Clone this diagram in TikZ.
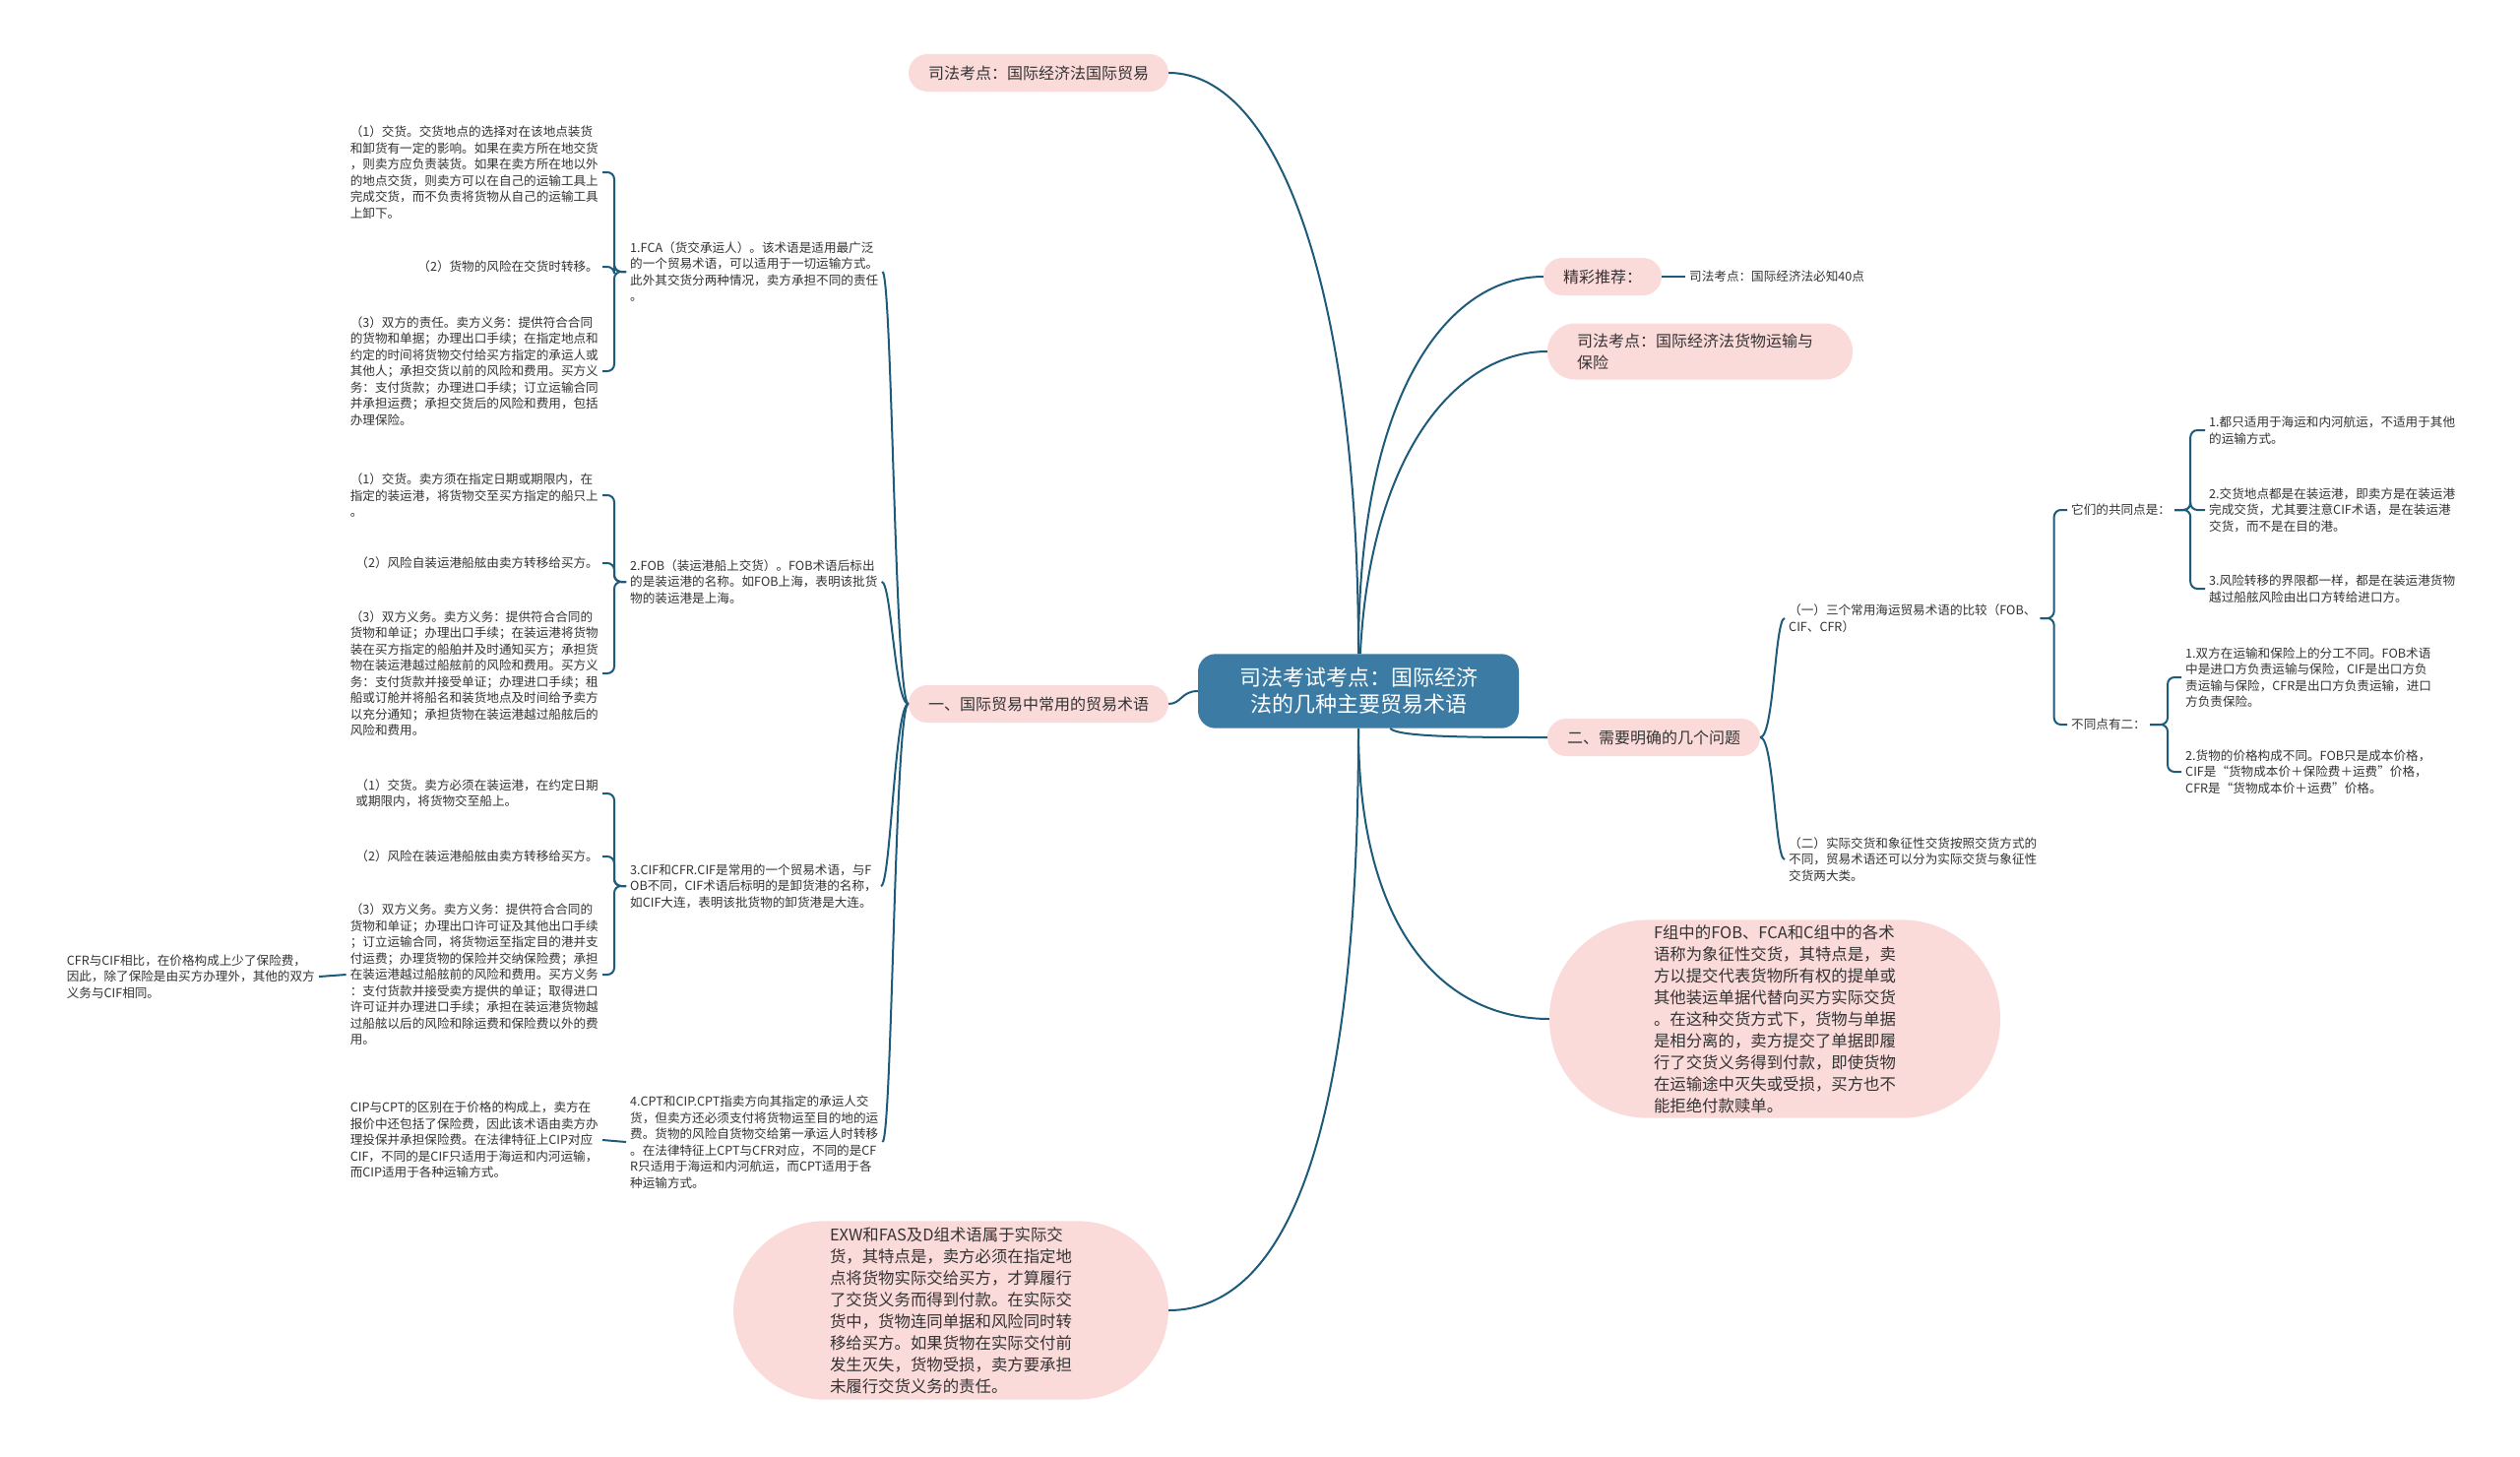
\documentclass[tikz,border=0pt]{standalone}
\usepackage{fontspec}
\setmainfont{Noto Sans CJK SC}
\definecolor{linkblue}{HTML}{1E5B7B}
\definecolor{pinkfill}{HTML}{FBDADA}
\definecolor{rootblue}{HTML}{3B7BA4}
\definecolor{textgray}{HTML}{333333}
\tikzset{link/.style = {draw = linkblue, line width = 2pt}}
\tikzset{bracket/.style = {link, rounded corners = 7pt}}
\tikzset{leaf/.style = {align = left, inner sep = 4pt, text = textgray, font = \fontsize{12.6}{16.5}\selectfont}}
\tikzset{topic/.style = {fill = pinkfill, rounded corners = 19pt, inner xsep = 20pt, minimum height = 38pt, text = textgray, font = \fontsize{16}{22}\selectfont}}
\tikzset{bubble/.style = {fill = pinkfill, rounded corners = 92pt, align = left, text = textgray, font = \fontsize{16.4}{22}\selectfont}}
\tikzset{root/.style = {fill = rootblue, rounded corners = 18pt, align = center, text = white, inner xsep = 42pt, inner ysep = 14pt, font = \fontsize{22}{27}\selectfont}}
\begin{document}
\begin{tikzpicture}[x = 1pt, y = -1pt]
	\fill[white] (0, 0) rectangle (2560, 1480);
	\clip (0, 0) rectangle (2560, 1480);

	\node[root] (root) at (1380, 702) {司法考试考点：国际经济\\法的几种主要贸易术语};

	\node[topic] (law) at (1055, 74) {司法考点：国际经济法国际贸易};
	\node[topic] (terms) at (1055, 715) {一、国际贸易中常用的贸易术语};
	\node[topic] (rec) at (1628, 281) {精彩推荐：};
	\node[topic, align = left, text width = 250pt, inner xsep = 30pt, rounded corners = 28pt, minimum height = 57pt] (cargo) at (1727, 357) {司法考点：国际经济法货物运输与\\保险};
	\node[topic] (issues) at (1680, 749) {二、需要明确的几个问题};
	\node[leaf, anchor = west] (rec1) at (1712, 281) {司法考点：国际经济法必知40点};

	\node[bubble, inner xsep = 106pt, inner ysep = 5pt, rounded corners = 100pt] (symbolic) at (1803, 1035) {F组中的FOB、FCA和C组中的各术\\语称为象征性交货，其特点是，卖\\方以提交代表货物所有权的提单或\\其他装运单据代替向买方实际交货\\。在这种交货方式下，货物与单据\\是相分离的，卖方提交了单据即履\\行了交货义务得到付款，即使货物\\在运输途中灭失或受损，买方也不\\能拒绝付款赎单。};
	\node[bubble, inner xsep = 98pt, inner ysep = 6pt] (actual) at (966, 1331) {EXW和FAS及D组术语属于实际交\\货，其特点是，卖方必须在指定地\\点将货物实际交给买方，才算履行\\了交货义务而得到付款。在实际交\\货中，货物连同单据和风险同时转\\移给买方。如果货物在实际交付前\\发生灭失，货物受损，卖方要承担\\未履行交货义务的责任。};

	\node[leaf, anchor = west] (fca) at (636, 276) {1.FCA（货交承运人）。该术语是适用最广泛\\的一个贸易术语，可以适用于一切运输方式。\\此外其交货分两种情况，卖方承担不同的责任\\。};
	\node[leaf, anchor = east] (fca1) at (612, 175) {（1）交货。交货地点的选择对在该地点装货\\和卸货有一定的影响。如果在卖方所在地交货\\，则卖方应负责装货。如果在卖方所在地以外\\的地点交货，则卖方可以在自己的运输工具上\\完成交货，而不负责将货物从自己的运输工具\\上卸下。};
	\node[leaf, anchor = east] (fca2) at (612, 271) {（2）货物的风险在交货时转移。};
	\node[leaf, anchor = east] (fca3) at (612, 377) {（3）双方的责任。卖方义务：提供符合合同\\的货物和单据；办理出口手续；在指定地点和\\约定的时间将货物交付给买方指定的承运人或\\其他人；承担交货以前的风险和费用。买方义\\务：支付货款；办理进口手续；订立运输合同\\并承担运费；承担交货后的风险和费用，包括\\办理保险。};

	\node[leaf, anchor = west] (fob) at (636, 591) {2.FOB（装运港船上交货）。FOB术语后标出\\的是装运港的名称。如FOB上海，表明该批货\\物的装运港是上海。};
	\node[leaf, anchor = east] (fob1) at (612, 503) {（1）交货。卖方须在指定日期或期限内，在\\指定的装运港，将货物交至买方指定的船只上\\。};
	\node[leaf, anchor = east] (fob2) at (612, 572) {（2）风险自装运港船舷由卖方转移给买方。};
	\node[leaf, anchor = east] (fob3) at (612, 684) {（3）双方义务。卖方义务：提供符合合同的\\货物和单证；办理出口手续；在装运港将货物\\装在买方指定的船舶并及时通知买方；承担货\\物在装运港越过船舷前的风险和费用。买方义\\务：支付货款并接受单证；办理进口手续；租\\船或订舱并将船名和装货地点及时间给予卖方\\以充分通知；承担货物在装运港越过船舷后的\\风险和费用。};

	\node[leaf, anchor = west] (cif) at (636, 900) {3.CIF和CFR.CIF是常用的一个贸易术语，与F\\OB不同，CIF术语后标明的是卸货港的名称，\\如CIF大连，表明该批货物的卸货港是大连。};
	\node[leaf, anchor = east] (cif1) at (612, 806) {（1）交货。卖方必须在装运港，在约定日期\\或期限内，将货物交至船上。};
	\node[leaf, anchor = east] (cif2) at (612, 870) {（2）风险在装运港船舷由卖方转移给买方。};
	\node[leaf, anchor = east] (cif3) at (612, 990) {（3）双方义务。卖方义务：提供符合合同的\\货物和单证；办理出口许可证及其他出口手续\\；订立运输合同，将货物运至指定目的港并支\\付运费；办理货物的保险并交纳保险费；承担\\在装运港越过船舷前的风险和费用。买方义务\\：支付货款并接受卖方提供的单证；取得进口\\许可证并办理进口手续；承担在装运港货物越\\过船舷以后的风险和除运费和保险费以外的费\\用。};
	\node[leaf, anchor = east] (cfr) at (324, 992) {CFR与CIF相比，在价格构成上少了保险费，\\因此，除了保险是由买方办理外，其他的双方\\义务与CIF相同。};

	\node[leaf, anchor = west] (cpt) at (636, 1160) {4.CPT和CIP.CPT指卖方向其指定的承运人交\\货，但卖方还必须支付将货物运至目的地的运\\费。货物的风险自货物交给第一承运人时转移\\。在法律特征上CPT与CFR对应，不同的是CF\\R只适用于海运和内河航运，而CPT适用于各\\种运输方式。};
	\node[leaf, anchor = east] (cip) at (612, 1158) {CIP与CPT的区别在于价格的构成上，卖方在\\报价中还包括了保险费，因此该术语由卖方办\\理投保并承担保险费。在法律特征上CIP对应\\CIF，不同的是CIF只适用于海运和内河运输，\\而CIP适用于各种运输方式。};

	\node[leaf, anchor = west] (cmp) at (1813, 628) {（一）三个常用海运贸易术语的比较（FOB、\\CIF、CFR）};
	\node[leaf, anchor = west] (kinds) at (1813, 873) {（二）实际交货和象征性交货按照交货方式的\\不同，贸易术语还可以分为实际交货与象征性\\交货两大类。};
	\node[leaf, anchor = west] (same) at (2100, 518) {它们的共同点是：};
	\node[leaf, anchor = west] (diff) at (2100, 736) {不同点有二：};
	\node[leaf, anchor = west] (same1) at (2240, 437) {1.都只适用于海运和内河航运，不适用于其他\\的运输方式。};
	\node[leaf, anchor = west] (same2) at (2240, 518) {2.交货地点都是在装运港，即卖方是在装运港\\完成交货，尤其要注意CIF术语，是在装运港\\交货，而不是在目的港。};
	\node[leaf, anchor = west] (same3) at (2240, 598) {3.风险转移的界限都一样，都是在装运港货物\\越过船舷风险由出口方转给进口方。};
	\node[leaf, anchor = west] (diff1) at (2216, 688) {1.双方在运输和保险上的分工不同。FOB术语\\中是进口方负责运输与保险，CIF是出口方负\\责运输与保险，CFR是出口方负责运输，进口\\方负责保险。};
	\node[leaf, anchor = west] (diff2) at (2216, 784) {2.货物的价格构成不同。FOB只是成本价格，\\CIF是“货物成本价＋保险费＋运费”价格，\\CFR是“货物成本价＋运费”价格。};

	\draw[link] (root) .. controls (1380, 300) and (1300, 74) .. (law.east);
	\draw[link] (root) .. controls (1380, 400) and (1470, 281) .. (rec.west);
	\draw[link] (root) .. controls (1392, 460) and (1480, 357) .. (cargo.west);
	\draw[link] (root) .. controls (1420, 749) and (1500, 749) .. (issues.west);
	\draw[link] (root) .. controls (1380, 950) and (1470, 1035) .. (symbolic.west);
	\draw[link] (root) .. controls (1380, 1200) and (1290, 1331) .. (actual.east);
	\draw[link] (root) .. controls (1200, 702) and (1200, 715) .. (terms.east);
	\draw[link] (rec.east) -- (rec1.west);

	\draw[link] (terms.west) .. controls +(-14, 0) and +(10, 0) .. (fca.east);
	\draw[link] (terms.west) .. controls +(-14, 0) and +(10, 0) .. (fob.east);
	\draw[link] (terms.west) .. controls +(-14, 0) and +(10, 0) .. (cif.east);
	\draw[link] (terms.west) .. controls +(-14, 0) and +(10, 0) .. (cpt.east);

	\draw[bracket] (fca.west) -- ++(-12, 0) |- (fca1.east);
	\draw[bracket] (fca.west) -- ++(-12, 0) |- (fca2.east);
	\draw[bracket] (fca.west) -- ++(-12, 0) |- (fca3.east);
	\draw[bracket] (fob.west) -- ++(-12, 0) |- (fob1.east);
	\draw[bracket] (fob.west) -- ++(-12, 0) |- (fob2.east);
	\draw[bracket] (fob.west) -- ++(-12, 0) |- (fob3.east);
	\draw[bracket] (cif.west) -- ++(-12, 0) |- (cif1.east);
	\draw[bracket] (cif.west) -- ++(-12, 0) |- (cif2.east);
	\draw[bracket] (cif.west) -- ++(-12, 0) |- (cif3.east);
	\draw[link] (cif3.west) -- (cfr.east);
	\draw[link] (cpt.west) -- (cip.east);

	\draw[link] (issues.east) .. controls +(14, 0) and +(-10, 0) .. (cmp.west);
	\draw[link] (issues.east) .. controls +(14, 0) and +(-10, 0) .. (kinds.west);
	\draw[bracket] (cmp.east) -- ++(14, 0) |- (same.west);
	\draw[bracket] (cmp.east) -- ++(14, 0) |- (diff.west);
	\draw[bracket] (same.east) -- ++(16, 0) |- (same1.west);
	\draw[bracket] (same.east) -- ++(16, 0) |- (same2.west);
	\draw[bracket] (same.east) -- ++(16, 0) |- (same3.west);
	\draw[bracket] (diff.east) -- ++(18, 0) |- (diff1.west);
	\draw[bracket] (diff.east) -- ++(18, 0) |- (diff2.west);
\end{tikzpicture}
\end{document}
